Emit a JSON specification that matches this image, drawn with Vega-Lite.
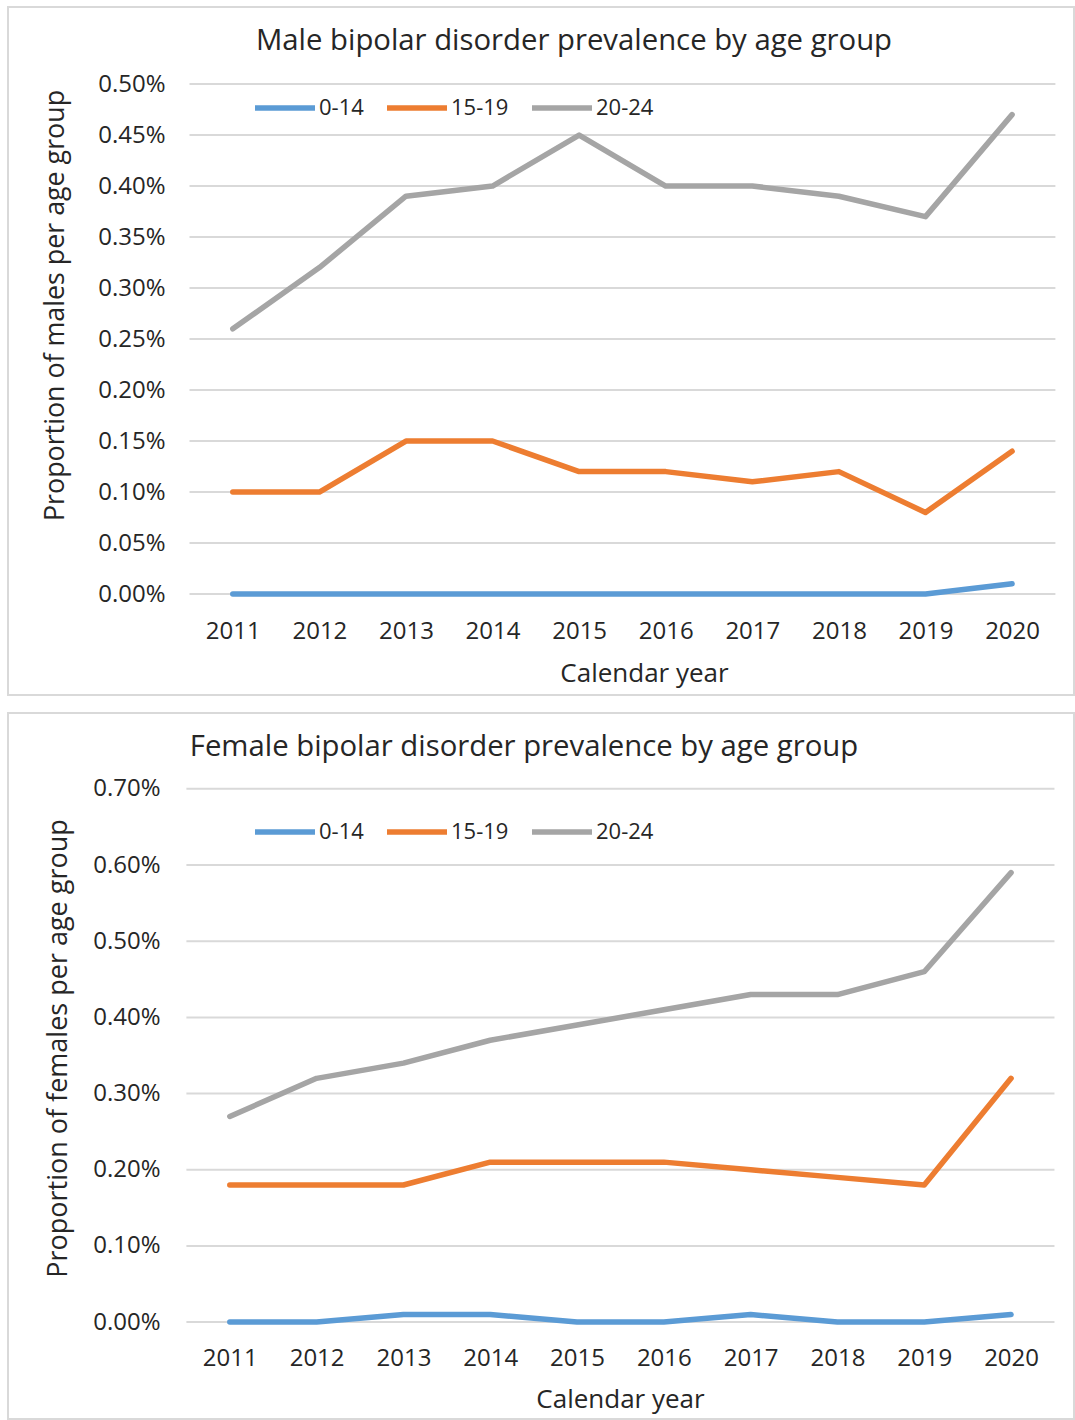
{
  "$schema": "https://vega.github.io/schema/vega-lite/v6.json",
  "padding": {"left": 7, "top": 6, "right": 0, "bottom": 0},
  "background": "white",
  "datasets": {
    "male": [
      {"year": 2011, "age": "0-14", "value": 0}, {"year": 2012, "age": "0-14", "value": 0}, {"year": 2013, "age": "0-14", "value": 0}, {"year": 2014, "age": "0-14", "value": 0}, {"year": 2015, "age": "0-14", "value": 0}, {"year": 2016, "age": "0-14", "value": 0}, {"year": 2017, "age": "0-14", "value": 0}, {"year": 2018, "age": "0-14", "value": 0}, {"year": 2019, "age": "0-14", "value": 0}, {"year": 2020, "age": "0-14", "value": 0.0001},
      {"year": 2011, "age": "15-19", "value": 0.0010}, {"year": 2012, "age": "15-19", "value": 0.0010}, {"year": 2013, "age": "15-19", "value": 0.0015}, {"year": 2014, "age": "15-19", "value": 0.0015}, {"year": 2015, "age": "15-19", "value": 0.0012}, {"year": 2016, "age": "15-19", "value": 0.0012}, {"year": 2017, "age": "15-19", "value": 0.0011}, {"year": 2018, "age": "15-19", "value": 0.0012}, {"year": 2019, "age": "15-19", "value": 0.0008}, {"year": 2020, "age": "15-19", "value": 0.0014},
      {"year": 2011, "age": "20-24", "value": 0.0026}, {"year": 2012, "age": "20-24", "value": 0.0032}, {"year": 2013, "age": "20-24", "value": 0.0039}, {"year": 2014, "age": "20-24", "value": 0.0040}, {"year": 2015, "age": "20-24", "value": 0.0045}, {"year": 2016, "age": "20-24", "value": 0.0040}, {"year": 2017, "age": "20-24", "value": 0.0040}, {"year": 2018, "age": "20-24", "value": 0.0039}, {"year": 2019, "age": "20-24", "value": 0.0037}, {"year": 2020, "age": "20-24", "value": 0.0047}
    ],
    "female": [
      {"year": 2011, "age": "0-14", "value": 0}, {"year": 2012, "age": "0-14", "value": 0}, {"year": 2013, "age": "0-14", "value": 0.0001}, {"year": 2014, "age": "0-14", "value": 0.0001}, {"year": 2015, "age": "0-14", "value": 0}, {"year": 2016, "age": "0-14", "value": 0}, {"year": 2017, "age": "0-14", "value": 0.0001}, {"year": 2018, "age": "0-14", "value": 0}, {"year": 2019, "age": "0-14", "value": 0}, {"year": 2020, "age": "0-14", "value": 0.0001},
      {"year": 2011, "age": "15-19", "value": 0.0018}, {"year": 2012, "age": "15-19", "value": 0.0018}, {"year": 2013, "age": "15-19", "value": 0.0018}, {"year": 2014, "age": "15-19", "value": 0.0021}, {"year": 2015, "age": "15-19", "value": 0.0021}, {"year": 2016, "age": "15-19", "value": 0.0021}, {"year": 2017, "age": "15-19", "value": 0.0020}, {"year": 2018, "age": "15-19", "value": 0.0019}, {"year": 2019, "age": "15-19", "value": 0.0018}, {"year": 2020, "age": "15-19", "value": 0.0032},
      {"year": 2011, "age": "20-24", "value": 0.0027}, {"year": 2012, "age": "20-24", "value": 0.0032}, {"year": 2013, "age": "20-24", "value": 0.0034}, {"year": 2014, "age": "20-24", "value": 0.0037}, {"year": 2015, "age": "20-24", "value": 0.0039}, {"year": 2016, "age": "20-24", "value": 0.0041}, {"year": 2017, "age": "20-24", "value": 0.0043}, {"year": 2018, "age": "20-24", "value": 0.0043}, {"year": 2019, "age": "20-24", "value": 0.0046}, {"year": 2020, "age": "20-24", "value": 0.0059}
    ],
    "maleTicks": [{"v": 0}, {"v": 0.0005}, {"v": 0.001}, {"v": 0.0015}, {"v": 0.002}, {"v": 0.0025}, {"v": 0.003}, {"v": 0.0035}, {"v": 0.004}, {"v": 0.0045}, {"v": 0.005}],
    "femaleTicks": [{"v": 0}, {"v": 0.001}, {"v": 0.002}, {"v": 0.003}, {"v": 0.004}, {"v": 0.005}, {"v": 0.006}, {"v": 0.007}]
  },
  "vconcat": [
    {
      "width": 1066,
      "height": 688,
      "title": {"text": "Male bipolar disorder prevalence by age group", "frame": "group", "anchor": "middle", "dx": 33, "offset": -63, "baseline": "middle", "fontSize": 29.3, "fontWeight": "normal", "font": "Open Sans", "color": "#262626"},
      "layer": [
        {
          "data": {"name": "maleTicks"},
          "mark": {"type": "rule", "color": "#d9d9d9", "strokeWidth": 2},
          "encoding": {
            "x": {"datum": 2010.5, "type": "quantitative", "scale": {"domain": [2008.404, 2020.715], "nice": false, "zero": false}},
            "x2": {"datum": 2020.5},
            "y": {"field": "v", "type": "quantitative", "scale": {"domain": [-0.00099, 0.005755], "nice": false, "zero": false}}
          }
        },
        {
          "data": {"name": "male"},
          "mark": {"type": "line", "strokeWidth": 5.5, "strokeJoin": "round", "strokeCap": "round"},
          "encoding": {
            "x": {"field": "year", "type": "quantitative", "scale": {"domain": [2008.404, 2020.715], "nice": false, "zero": false},
              "axis": {"values": [2011, 2012, 2013, 2014, 2015, 2016, 2017, 2018, 2019, 2020], "format": "d", "offset": -76, "domain": false, "ticks": false, "tickSize": 0, "labelPadding": 0, "labelBaseline": "top", "labelFlush": false, "labelOverlap": false, "grid": false, "labelFontSize": 24,
                "title": "Calendar year", "titleX": 636, "titleY": 54, "titleBaseline": "middle", "titleFontSize": 26}},
            "y": {"field": "value", "type": "quantitative", "scale": {"domain": [-0.00099, 0.005755], "nice": false, "zero": false},
              "axis": {"values": [0, 0.0005, 0.001, 0.0015, 0.002, 0.0025, 0.003, 0.0035, 0.004, 0.0045, 0.005], "format": ".2%", "offset": -157, "domain": false, "ticks": false, "tickSize": 0, "labelPadding": 0, "labelOverlap": false, "labelFlush": false, "grid": false, "labelFontSize": 24,
                "title": "Proportion of males per age group", "titleX": -110, "titleY": 298, "titleAngle": -90, "titleAlign": "center", "titleBaseline": "middle", "titleFontSize": 26.8}},
            "color": {"field": "age", "type": "nominal", "scale": {"domain": ["0-14", "15-19", "20-24"], "range": ["#5b9bd5", "#ed7d31", "#a5a5a5"]},
              "legend": {"orient": "none", "legendX": 244, "legendY": 68, "direction": "horizontal", "title": null, "symbolType": "stroke", "symbolSize": 3600, "symbolStrokeWidth": 5.5, "labelFontSize": 22, "labelOffset": 1, "columnPadding": 12, "padding": 0}}
          }
        }
      ]
    },
    {
      "width": 1066,
      "height": 706,
      "title": {"text": "Female bipolar disorder prevalence by age group", "frame": "group", "anchor": "middle", "dx": -17, "offset": -63, "baseline": "middle", "fontSize": 29.3, "fontWeight": "normal", "font": "Open Sans", "color": "#262626"},
      "layer": [
        {
          "data": {"name": "femaleTicks"},
          "mark": {"type": "rule", "color": "#d9d9d9", "strokeWidth": 2},
          "encoding": {
            "x": {"datum": 2010.5, "type": "quantitative", "scale": {"domain": [2008.445, 2020.725], "nice": false, "zero": false}},
            "x2": {"datum": 2020.5},
            "y": {"field": "v", "type": "quantitative", "scale": {"domain": [-0.001272, 0.007996], "nice": false, "zero": false}}
          }
        },
        {
          "data": {"name": "female"},
          "mark": {"type": "line", "strokeWidth": 5.5, "strokeJoin": "round", "strokeCap": "round"},
          "encoding": {
            "x": {"field": "year", "type": "quantitative", "scale": {"domain": [2008.445, 2020.725], "nice": false, "zero": false},
              "axis": {"values": [2011, 2012, 2013, 2014, 2015, 2016, 2017, 2018, 2019, 2020], "format": "d", "offset": -73, "domain": false, "ticks": false, "tickSize": 0, "labelPadding": 0, "labelBaseline": "top", "labelFlush": false, "labelOverlap": false, "grid": false, "labelFontSize": 24,
                "title": "Calendar year", "titleX": 612, "titleY": 53, "titleBaseline": "middle", "titleFontSize": 26}},
            "y": {"field": "value", "type": "quantitative", "scale": {"domain": [-0.001272, 0.007996], "nice": false, "zero": false},
              "axis": {"values": [0, 0.001, 0.002, 0.003, 0.004, 0.005, 0.006, 0.007], "format": ".2%", "offset": -152, "domain": false, "ticks": false, "tickSize": 0, "labelPadding": 0, "labelOverlap": false, "labelFlush": false, "grid": false, "labelFontSize": 24,
                "title": "Proportion of females per age group", "titleX": -102, "titleY": 335, "titleAngle": -90, "titleAlign": "center", "titleBaseline": "middle", "titleFontSize": 27}},
            "color": {"field": "age", "type": "nominal", "scale": {"domain": ["0-14", "15-19", "20-24"], "range": ["#5b9bd5", "#ed7d31", "#a5a5a5"]},
              "legend": {"orient": "none", "legendX": 244, "legendY": 86, "direction": "horizontal", "title": null, "symbolType": "stroke", "symbolSize": 3600, "symbolStrokeWidth": 5.5, "labelFontSize": 22, "labelOffset": 1, "columnPadding": 12, "padding": 0}}
          }
        }
      ]
    }
  ],
  "spacing": 18,
  "bounds": "flush",
  "resolve": {"scale": {"color": "independent"}},
  "config": {
    "font": "Open Sans",
    "view": {"stroke": "#d9d9d9", "strokeWidth": 2},
    "axis": {"labelFont": "Open Sans", "titleFont": "Open Sans", "labelColor": "#262626", "titleColor": "#262626", "titleFontWeight": "normal"},
    "legend": {"labelFont": "Open Sans", "labelColor": "#262626"}
  }
}
